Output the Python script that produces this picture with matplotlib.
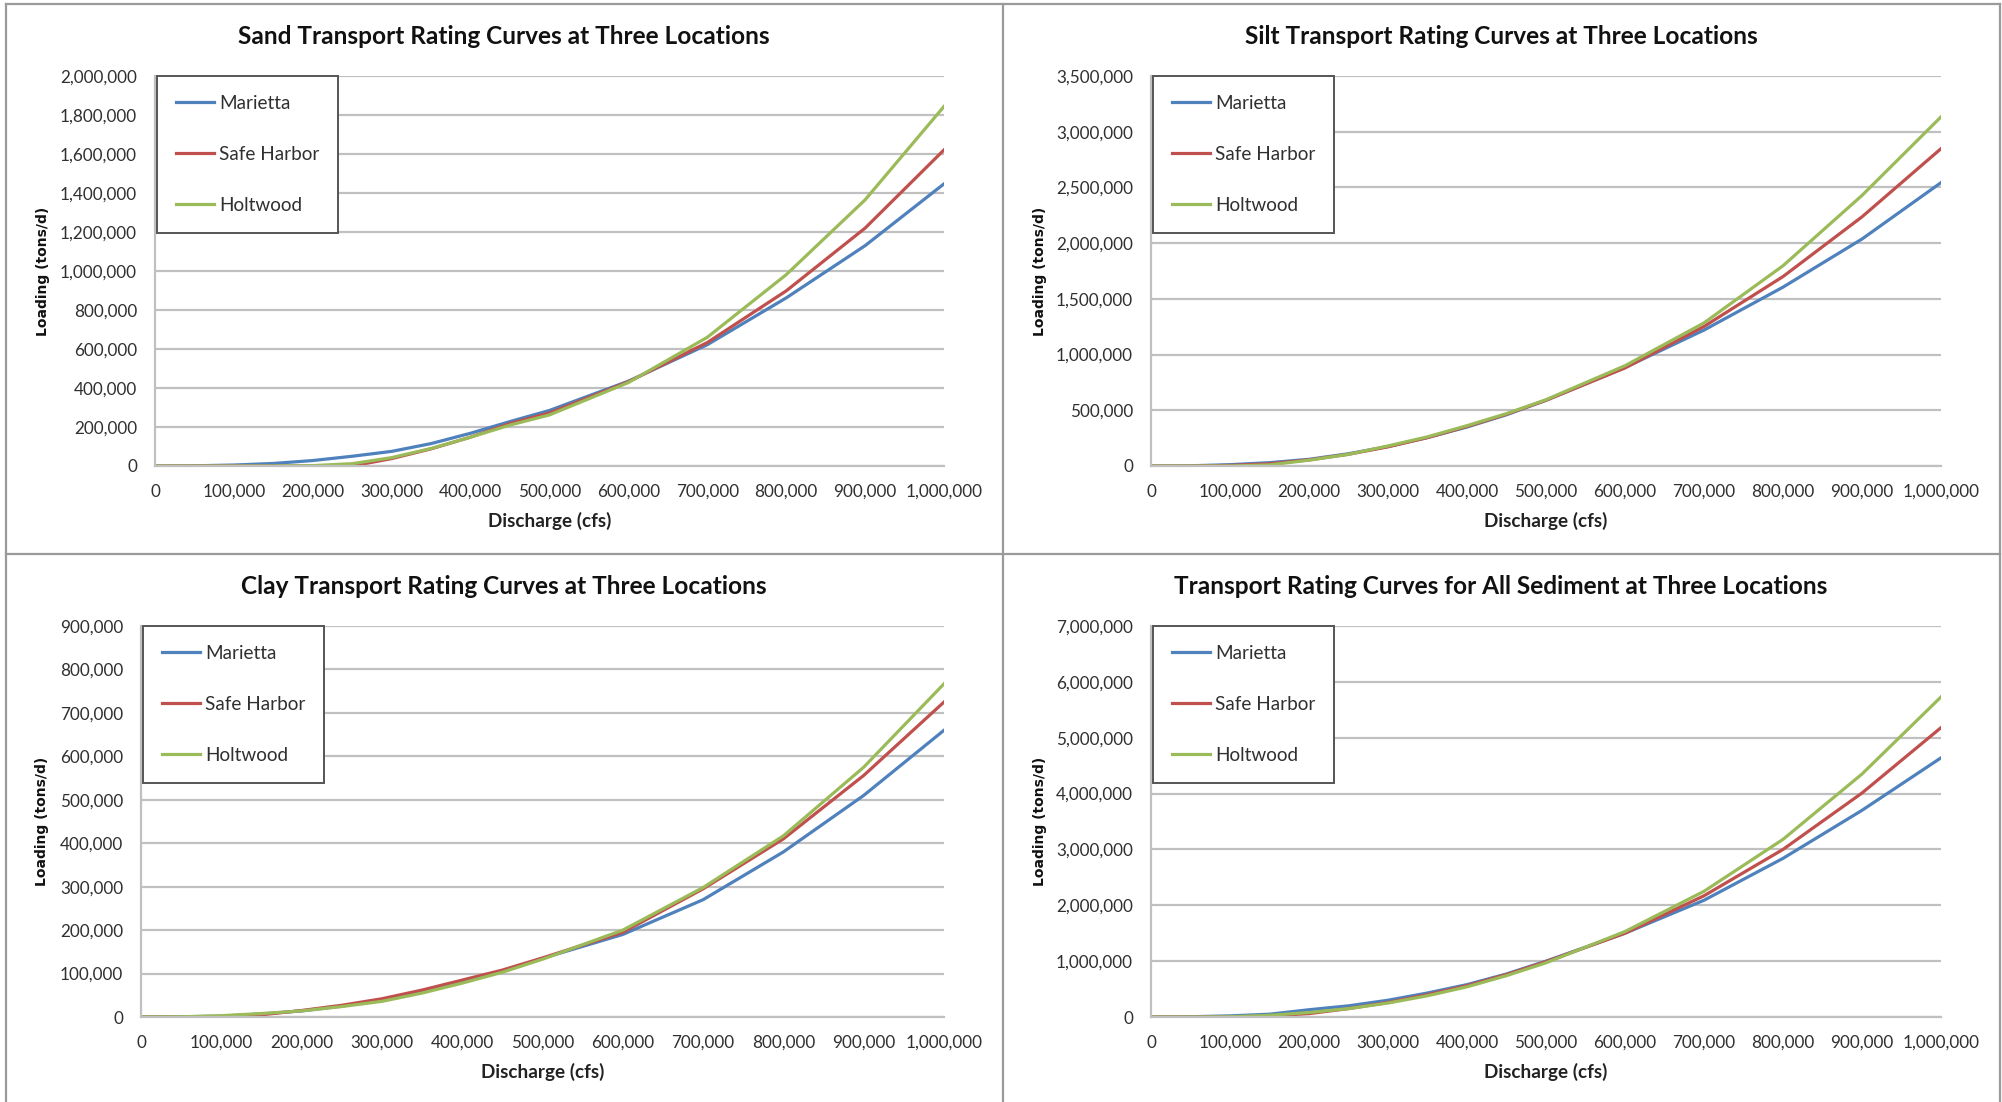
import matplotlib
matplotlib.use("Agg")
import matplotlib.pyplot as plt
from matplotlib.ticker import FuncFormatter, MultipleLocator
from matplotlib.lines import Line2D

plt.rcParams["font.family"] = ["Lato", "DejaVu Sans"]

# discharge (cfs)
discharge = [0, 50000, 100000, 150000, 200000, 250000, 300000, 350000, 400000,
             450000, 500000, 600000, 700000, 800000, 900000, 1000000]

sand_marietta = [0, 1000, 5000, 13000, 28000, 50000, 75000, 115000, 168000,
                 228000, 285000, 435000, 622000, 862000, 1130000, 1447000]
sand_safe_harbor = [0, 0, 0, 0, 0, 0, 38000, 88000, 148000,
                    218000, 272000, 432000, 633000, 898000, 1220000, 1621000]
sand_holtwood = [0, 0, 0, 0, 2000, 12000, 43000, 90000, 148000,
                 210000, 262000, 428000, 660000, 981000, 1365000, 1844000]

silt_marietta = [0, 2000, 12000, 30000, 60000, 110000, 175000, 255000, 350000,
                 460000, 590000, 884000, 1220000, 1605000, 2037000, 2543000]
silt_safe_harbor = [0, 0, 5000, 20000, 55000, 105000, 172000, 255000, 355000,
                    465000, 590000, 880000, 1252000, 1700000, 2236000, 2848000]
silt_holtwood = [0, 0, 0, 10000, 52000, 105000, 180000, 262000, 362000,
                 470000, 595000, 900000, 1284000, 1797000, 2428000, 3133000]

clay_marietta = [0, 500, 2000, 7000, 14000, 25000, 40000, 58000, 80000,
                 105000, 135000, 190000, 270000, 380000, 510000, 660000]
clay_safe_harbor = [0, 0, 0, 5000, 15000, 27000, 42000, 62000, 85000,
                    108000, 136000, 195000, 295000, 410000, 556000, 725000]
clay_holtwood = [0, 500, 3000, 8000, 14000, 24000, 36000, 55000, 78000,
                 103000, 133000, 200000, 298000, 417000, 575000, 767000]

all_marietta = [0, 5000, 20000, 50000, 130000, 200000, 300000, 430000, 580000,
                770000, 1000000, 1500000, 2090000, 2840000, 3700000, 4640000]
all_safe_harbor = [0, 0, 0, 20000, 60000, 150000, 260000, 400000, 560000,
                   760000, 990000, 1500000, 2170000, 3000000, 4010000, 5180000]
all_holtwood = [0, 0, 5000, 30000, 80000, 150000, 250000, 380000, 540000,
                740000, 970000, 1530000, 2250000, 3180000, 4350000, 5730000]

locations = ["Marietta", "Safe Harbor", "Holtwood"]
colors = ["#4F81BD", "#C0504D", "#9BBB59"]

W, H = 2002, 1102
fig = plt.figure(figsize=(W / 100, H / 100), dpi=100)

# panel borders
border = "#9a9a9a"
for x in [6, 1003, 2000]:
    fig.add_artist(Line2D([x / W, x / W], [0, 1 - 4 / H], color=border, lw=1.6))
for y in [4, 554]:
    fig.add_artist(Line2D([6 / W, 2000 / W], [1 - y / H, 1 - y / H], color=border, lw=1.6))

panels = [
    # title, series, ymax, ystep, plot box (l, t, r, b) px, title y, panel centre x, ylabel x
    ("Sand Transport Rating Curves at Three Locations",
     [sand_marietta, sand_safe_harbor, sand_holtwood], 2000000, 200000,
     (155, 76, 944, 466), 37, 504, 43),
    ("Silt Transport Rating Curves at Three Locations",
     [silt_marietta, silt_safe_harbor, silt_holtwood], 3500000, 500000,
     (1151, 76, 1941, 466), 37, 1501, 1040),
    ("Clay Transport Rating Curves at Three Locations",
     [clay_marietta, clay_safe_harbor, clay_holtwood], 900000, 100000,
     (141, 626, 944, 1017), 587, 504, 42),
    ("Transport Rating Curves for All Sediment at Three Locations",
     [all_marietta, all_safe_harbor, all_holtwood], 7000000, 1000000,
     (1151, 626, 1941, 1017), 587, 1501, 1040),
]

fmt = FuncFormatter(lambda v, p: f"{int(v):,}")

for title, series, ymax, ystep, (l, t, r, b), ty, cx, yx in panels:
    ax = fig.add_axes([l / W, 1 - b / H, (r - l) / W, (b - t) / H])
    for vals, name, c in zip(series, locations, colors):
        ax.plot(discharge, vals, color=c, lw=2.3, label=name, solid_joinstyle="round")
    ax.set_xlim(0, 1000000)
    ax.set_ylim(0, ymax)
    ax.xaxis.set_major_locator(MultipleLocator(100000))
    ax.yaxis.set_major_locator(MultipleLocator(ystep))
    ax.xaxis.set_major_formatter(fmt)
    ax.yaxis.set_major_formatter(fmt)
    ax.grid(axis="y", color="#c0c0c0", lw=1.6)
    ax.set_axisbelow(True)
    for s in ["top", "right"]:
        ax.spines[s].set_visible(False)
    for s in ["left", "bottom"]:
        ax.spines[s].set_color("#c0c0c0")
        ax.spines[s].set_linewidth(1.6)
    ax.tick_params(length=0, labelsize=12.3, colors="#303030")
    ax.tick_params(axis="x", pad=13)
    ax.tick_params(axis="y", pad=13)

    leg = ax.legend(loc="upper left", bbox_to_anchor=(0.003, 1.0), borderaxespad=0,
                    fancybox=False, framealpha=1, edgecolor="#555555",
                    fontsize=13.6, labelspacing=1.8, borderpad=1.0,
                    handlelength=2.0, handletextpad=0.25)
    leg.get_frame().set_linewidth(1.4)
    for txt in leg.get_texts():
        txt.set_color("#303030")

    fig.text(cx / W, 1 - ty / H, title, ha="center", va="center",
             fontsize=17.6, fontweight="bold", color="#111111")
    fig.text((l + r) / 2 / W, 1 - (b + 55) / H, "Discharge (cfs)", ha="center",
             va="center", fontsize=13.6, fontweight="bold", color="#222222")
    fig.text(yx / W, 1 - (t + b) / 2 / H, "Loading (tons/d)", rotation=90,
             ha="center", va="center", fontsize=10, fontweight="bold",
             family="DejaVu Sans", color="#111111")

fig.savefig("out.png", dpi=100, facecolor="white")
